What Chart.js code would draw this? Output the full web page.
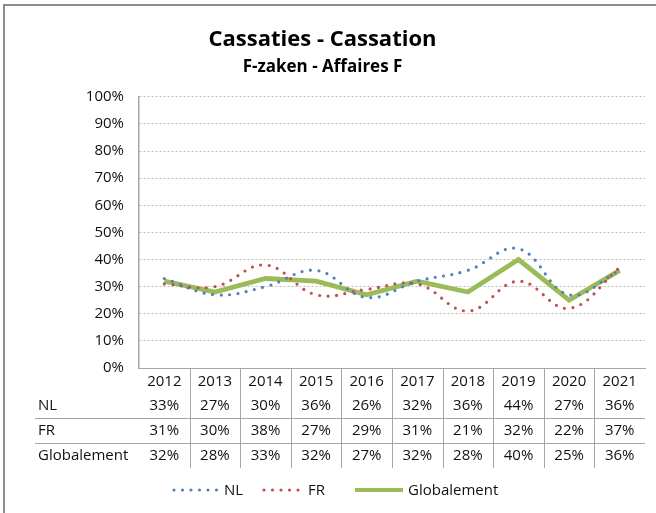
<!DOCTYPE html>
<html>
<head>
<meta charset="utf-8">
<script src="https://cdn.jsdelivr.net/npm/chart.js@4"></script>
<style>
  html, body { margin: 0; padding: 0; background: #fff; }
  #wrap { position: relative; width: 656px; height: 513px; overflow: hidden; }
  #frame { position: absolute; left: 3px; top: 4px; width: 660px; height: 520px;
           border-top: 2px solid #8c8c8c; border-left: 2px solid #8c8c8c; }
  canvas { position: absolute; left: 0; top: 0; }
</style>
</head>
<body>
<div id="wrap">
  <div id="frame"></div>
  <canvas id="chart" width="656" height="513"></canvas>
</div>
<script>
const years = ['2012', '2013', '2014', '2015', '2016', '2017', '2018', '2019', '2020', '2021'];
const nl = [33, 27, 30, 36, 26, 32, 36, 44, 27, 36];
const fr = [31, 30, 38, 27, 29, 31, 21, 32, 22, 37];
const globalement = [32, 28, 33, 32, 27, 32, 28, 40, 25, 36];
const seriesNames = ['NL', 'FR', 'Globalement'];

const FONT = '"Open Sans", sans-serif';
const TEXT = '#111';
const BLUE = '#4f81bd';
const RED = '#c0504d';
const GREEN = '#9bbb59';
const LINE_GRAY = '#a6a6a6';

// draws the data table under the x axis and the legend
const tablePlugin = {
    id: 'dataTable',
    afterDraw(chart) {
        const ctx = chart.ctx;
        const x = chart.scales.x;
        const area = chart.chartArea;
        const rows = [nl, fr, globalement];
        const rowY = [406, 431, 456];
        const step = x.getPixelForValue(1) - x.getPixelForValue(0);

        ctx.save();
        ctx.strokeStyle = LINE_GRAY;
        ctx.lineWidth = 1;
        // horizontal separators
        [418, 443].forEach(y => {
            ctx.beginPath();
            ctx.moveTo(35, y + 0.5);
            ctx.lineTo(area.right, y + 0.5);
            ctx.stroke();
        });
        // vertical separators between years
        for (let i = 0; i < years.length - 1; i++) {
            const bx = Math.round(x.getPixelForValue(i) + step / 2) + 0.5;
            ctx.beginPath();
            ctx.moveTo(bx, area.bottom);
            ctx.lineTo(bx, 468);
            ctx.stroke();
        }

        ctx.fillStyle = TEXT;
        ctx.font = '15px ' + FONT;
        ctx.textBaseline = 'middle';
        rows.forEach((vals, r) => {
            ctx.textAlign = 'left';
            ctx.fillText(seriesNames[r], 38, rowY[r]);
            ctx.textAlign = 'center';
            vals.forEach((v, i) => {
                ctx.fillText(v + '%', x.getPixelForValue(i), rowY[r]);
            });
        });

        // legend
        const legendY = 491;
        const items = [
            { name: 'NL', color: BLUE, dotted: true, x0: 174, x1: 219 },
            { name: 'FR', color: RED, dotted: true, x0: 264, x1: 303 },
            { name: 'Globalement', color: GREEN, dotted: false, x0: 355, x1: 403 }
        ];
        items.forEach(it => {
            ctx.beginPath();
            ctx.strokeStyle = it.color;
            if (it.dotted) {
                ctx.lineWidth = 3.2;
                ctx.lineCap = 'round';
                ctx.setLineDash([0, 8.5]);
            } else {
                ctx.lineWidth = 4;
                ctx.lineCap = 'butt';
                ctx.setLineDash([]);
            }
            ctx.moveTo(it.x0, legendY - 1);
            ctx.lineTo(it.x1, legendY - 1);
            ctx.stroke();
            ctx.textAlign = 'left';
            ctx.fillStyle = TEXT;
            ctx.fillText(it.name, it.x1 + 5, legendY);
        });
        ctx.restore();
    }
};

const dotted = {
    borderWidth: 3.2,
    borderDash: [0, 8.5],
    borderCapStyle: 'round',
    tension: 0.4,
    pointRadius: 0,
    fill: false
};

new Chart(document.getElementById('chart'), {
    type: 'line',
    data: {
        labels: years,
        datasets: [
            Object.assign({ label: 'NL', data: nl, borderColor: BLUE }, dotted),
            Object.assign({ label: 'FR', data: fr, borderColor: RED }, dotted),
            {
                label: 'Globalement',
                data: globalement,
                borderColor: GREEN,
                borderWidth: 4.8,
                tension: 0,
                pointRadius: 0,
                fill: false
            }
        ]
    },
    options: {
        responsive: false,
        animation: false,
        layout: { padding: { top: 15, left: 0, right: 11, bottom: 120 } },
        plugins: {
            legend: { display: false },
            tooltip: { enabled: false },
            title: {
                display: true,
                text: 'Cassaties - Cassation',
                color: '#000',
                font: { family: FONT, size: 22, weight: 'bold' },
                padding: { top: 12, bottom: 0 }
            },
            subtitle: {
                display: true,
                text: 'F-zaken - Affaires F',
                color: '#000',
                font: { family: FONT, size: 17, weight: 'bold' },
                padding: { top: 4, bottom: 19 }
            }
        },
        scales: {
            x: {
                offset: true,
                grid: { display: false, drawTicks: false },
                border: { display: true, color: LINE_GRAY, width: 1 },
                ticks: { color: TEXT, font: { family: FONT, size: 15 }, padding: 5, maxRotation: 0 },
                afterFit(scale) { scale.height = 25; }
            },
            y: {
                min: 0,
                max: 100,
                ticks: {
                    stepSize: 10,
                    padding: 15,
                    color: TEXT,
                    font: { family: FONT, size: 15 },
                    callback: v => v + '%'
                },
                grid: { color: '#bdbdbd', drawTicks: false },
                border: { display: true, color: LINE_GRAY, width: 1.5, dash: [2, 2] },
                afterFit(scale) { scale.width = 139; }
            }
        }
    },
    plugins: [tablePlugin]
});
</script>
</body>
</html>
